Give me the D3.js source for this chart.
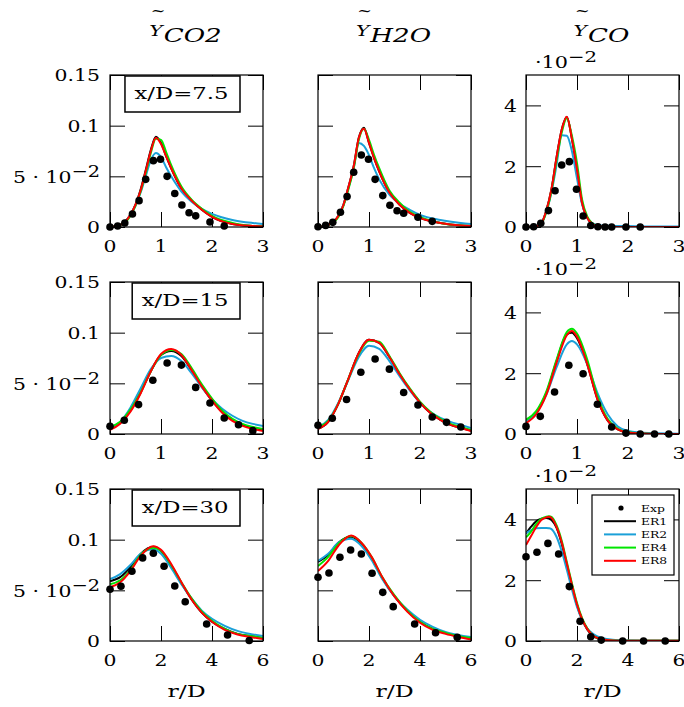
<!DOCTYPE html>
<html><head><meta charset="utf-8">
<script src="https://cdn.jsdelivr.net/npm/d3@7"></script>
<style>body{margin:0;background:#fff}</style>
</head><body>
<svg id="c" width="684" height="707"></svg>
<script>
// ---------------- DATA ----------------
const speciesSubs = ["CO2","H2O","CO"];
const stations = ["x/D=7.5","x/D=15","x/D=30"];
const seriesNames = ["ER1","ER2","ER4","ER8"];
const xTicksNear = [0,1,2,3];
const xTicksFar = [0,2,4,6];
const yTicksMain = [0,0.05,0.1,0.15];
const yTickLabelsMain = ["0","5 · 10^−2","0.1","0.15"];
const yTicksCO = [0,0.02,0.04];
const yTickLabelsCO = ["0","2","4"];
const coMultiplier = "·10^−2";

// x/D = 7.5
const r_a = [0,0.2,0.4,0.5,0.6,0.7,0.8,0.9,1.0,1.1,1.2,1.4,1.6,1.8,2.0,2.4,2.8,3.0];
const co2_7_er1 = [0,0.002,0.012,0.022,0.037,0.056,0.076,0.089,0.083,0.070,0.058,0.038,0.026,0.017,0.010,0.003,0.001,0.0005];
const co2_7_er2 = [0,0.002,0.012,0.021,0.034,0.050,0.066,0.073,0.069,0.059,0.050,0.035,0.025,0.018,0.013,0.007,0.004,0.003];
const co2_7_er4 = [0,0.002,0.011,0.021,0.035,0.053,0.073,0.087,0.086,0.074,0.061,0.040,0.027,0.018,0.011,0.004,0.001,0.0005];
const co2_7_er8 = [0,0.002,0.012,0.022,0.036,0.055,0.075,0.088,0.082,0.070,0.058,0.038,0.026,0.017,0.010,0.003,0.001,0.0005];
const h2o_7_er1 = [0,0.002,0.011,0.022,0.040,0.060,0.088,0.098,0.083,0.068,0.055,0.034,0.022,0.014,0.009,0.004,0.0015,0.001];
const h2o_7_er2 = [0,0.002,0.011,0.022,0.039,0.058,0.083,0.080,0.071,0.058,0.047,0.032,0.023,0.017,0.012,0.007,0.004,0.003];
const h2o_7_er4 = [0,0.002,0.010,0.021,0.038,0.058,0.086,0.097,0.086,0.071,0.058,0.036,0.024,0.015,0.010,0.004,0.0015,0.001];
const h2o_7_er8 = [0,0.002,0.011,0.022,0.040,0.060,0.088,0.097,0.083,0.068,0.055,0.034,0.022,0.014,0.009,0.004,0.0015,0.001];
const r_b = [0,0.2,0.3,0.4,0.5,0.6,0.7,0.8,0.9,1.0,1.1,1.2,1.3,1.4,1.6,2.0,2.5,3.0];
const co_7_er1 = [0,0.0002,0.0012,0.0055,0.0125,0.023,0.032,0.0362,0.029,0.019,0.0078,0.003,0.001,0.0003,0.0001,0,0,0];
const co_7_er2 = [0,0.0002,0.0012,0.005,0.0115,0.0205,0.0302,0.030,0.025,0.016,0.0075,0.003,0.0012,0.0006,0.0004,0.0003,0.0002,0.0002];
const co_7_er4 = [0,0.0002,0.0011,0.005,0.012,0.022,0.031,0.0358,0.030,0.021,0.009,0.0035,0.0012,0.0004,0.0001,0,0,0];
const co_7_er8 = [0,0.0002,0.0012,0.0055,0.0125,0.023,0.032,0.0363,0.029,0.019,0.0078,0.003,0.001,0.0003,0.0001,0,0,0];
const exp_r_7 = [0,0.15,0.29,0.44,0.57,0.70,0.85,0.99,1.12,1.27,1.41,1.55,1.68,1.96,2.24];
const co2_7_exp = [0,0.001,0.004,0.0128,0.026,0.047,0.0655,0.0668,0.050,0.033,0.0217,0.014,0.011,0.005,0.001];
const h2o_7_exp = [0.0003,0.0016,0.0046,0.0145,0.030,0.054,0.071,0.0668,0.047,0.031,0.0214,0.016,0.0135,0.0096,0.0056];
const co_7_exp = [0,0.0001,0.0012,0.0054,0.0119,0.0204,0.0215,0.0124,0.0036,0.0005,0.0001,0,0,0,0];

// x/D = 15
const r_c = [0,0.2,0.4,0.6,0.8,1.0,1.2,1.4,1.6,1.8,2.0,2.2,2.4,2.6,2.8,3.0];
const co2_15_er1 = [0.005,0.011,0.023,0.041,0.062,0.078,0.082,0.077,0.063,0.047,0.033,0.022,0.014,0.009,0.006,0.004];
const co2_15_er2 = [0.006,0.012,0.026,0.045,0.064,0.075,0.077,0.072,0.060,0.046,0.034,0.025,0.018,0.013,0.010,0.008];
const co2_15_er4 = [0.007,0.012,0.024,0.041,0.062,0.078,0.083,0.079,0.065,0.049,0.035,0.023,0.015,0.010,0.007,0.005];
const co2_15_er8 = [0.004,0.010,0.022,0.040,0.062,0.079,0.084,0.078,0.063,0.047,0.033,0.021,0.013,0.008,0.005,0.003];
const h2o_15_er1 = [0.005,0.012,0.030,0.055,0.080,0.093,0.090,0.076,0.059,0.044,0.031,0.021,0.014,0.009,0.006,0.0035];
const h2o_15_er2 = [0.007,0.014,0.031,0.054,0.076,0.087,0.084,0.072,0.057,0.043,0.031,0.022,0.016,0.012,0.009,0.006];
const h2o_15_er4 = [0.007,0.013,0.030,0.055,0.079,0.092,0.091,0.077,0.060,0.045,0.032,0.022,0.015,0.010,0.007,0.004];
const h2o_15_er8 = [0.005,0.012,0.030,0.055,0.080,0.093,0.090,0.076,0.059,0.044,0.031,0.021,0.014,0.009,0.006,0.003];
const r_d = [0,0.2,0.4,0.6,0.8,0.9,1.0,1.2,1.4,1.6,1.8,2.0,2.4,3.0];
const co_15_er1 = [0.0045,0.0072,0.0135,0.024,0.0328,0.0333,0.0315,0.023,0.0115,0.0045,0.0015,0.0005,0.0001,0];
const co_15_er2 = [0.0041,0.007,0.013,0.022,0.0295,0.0306,0.0295,0.023,0.0135,0.0065,0.0025,0.001,0.0003,0.0001];
const co_15_er4 = [0.0047,0.0075,0.014,0.0245,0.0335,0.0346,0.033,0.0245,0.0125,0.005,0.0017,0.0006,0.0001,0];
const co_15_er8 = [0.0036,0.0065,0.013,0.0235,0.0325,0.0339,0.032,0.023,0.0115,0.0045,0.0015,0.0005,0.0001,0];
const exp_r_15 = [0,0.28,0.56,0.84,1.12,1.40,1.68,1.96,2.24,2.52,2.80];
const co2_15_exp = [0.0076,0.0135,0.029,0.053,0.070,0.068,0.046,0.0306,0.0158,0.0092,0.0033];
const h2o_15_exp = [0.0086,0.0155,0.034,0.061,0.074,0.064,0.041,0.0286,0.0168,0.0115,0.0069];
const co_15_exp = [0.0025,0.0058,0.0138,0.0226,0.0198,0.0098,0.0023,0.0003,0,0,0];

// x/D = 30
const r_e = [0,0.4,0.8,1.2,1.7,2.0,2.4,2.8,3.2,3.6,4.0,4.5,5.0,5.5,6.0];
const co2_30_er1 = [0.059,0.063,0.073,0.086,0.093,0.089,0.074,0.057,0.041,0.028,0.019,0.012,0.007,0.005,0.003];
const co2_30_er2 = [0.061,0.066,0.075,0.086,0.0905,0.086,0.072,0.056,0.042,0.030,0.022,0.015,0.010,0.007,0.005];
const co2_30_er4 = [0.056,0.060,0.070,0.085,0.092,0.089,0.075,0.058,0.042,0.029,0.020,0.012,0.007,0.005,0.003];
const co2_30_er8 = [0.053,0.058,0.069,0.084,0.0935,0.090,0.076,0.058,0.041,0.028,0.019,0.011,0.0065,0.004,0.002];
const r_f = [0,0.4,0.8,1.3,1.7,2.1,2.5,3.0,3.5,4.0,4.5,5.0,5.5,6.0];
const h2o_30_er1 = [0.078,0.085,0.097,0.103,0.096,0.082,0.063,0.044,0.030,0.019,0.012,0.008,0.005,0.003];
const h2o_30_er2 = [0.079,0.086,0.097,0.101,0.094,0.080,0.062,0.044,0.031,0.021,0.014,0.009,0.006,0.004];
const h2o_30_er4 = [0.074,0.083,0.096,0.1035,0.097,0.083,0.064,0.045,0.030,0.019,0.012,0.008,0.005,0.003];
const h2o_30_er8 = [0.069,0.079,0.094,0.104,0.097,0.083,0.064,0.044,0.029,0.018,0.011,0.007,0.004,0.0015];
const r_g = [0,0.2,0.4,0.6,0.8,0.9,1.0,1.2,1.4,1.6,1.8,2.0,2.2,2.4,2.6,2.8,3.0,3.4,4.0,5.0,6.0];
const co_30_er1 = [0.0354,0.0376,0.0394,0.0402,0.0405,0.0403,0.0398,0.0372,0.032,0.025,0.0182,0.0118,0.007,0.0038,0.0019,0.0009,0.0005,0.0002,0.0001,0.0001,0.0001];
const co_30_er2 = [0.0355,0.0365,0.0371,0.0372,0.0372,0.0371,0.0368,0.0342,0.0295,0.0235,0.017,0.0112,0.007,0.0042,0.0025,0.0015,0.0009,0.0004,0.0002,0.0001,0.0001];
const co_30_er4 = [0.0341,0.036,0.0385,0.0402,0.0409,0.041,0.0408,0.038,0.033,0.026,0.019,0.0125,0.0075,0.0042,0.002,0.001,0.0005,0.0002,0.0001,0.0001,0.0001];
const co_30_er8 = [0.0316,0.0345,0.0375,0.0398,0.0407,0.0409,0.0405,0.0375,0.0325,0.0255,0.0185,0.012,0.0072,0.004,0.002,0.001,0.0005,0.0002,0.0001,0.0001,0.0001];
const exp_r_30 = [0,0.43,0.86,1.28,1.70,2.12,2.54,2.95,3.79,4.61,5.46];
const co2_30_exp = [0.051,0.054,0.0688,0.082,0.0866,0.0737,0.0543,0.0388,0.0168,0.0059,0.0005];
const h2o_30_exp = [0.0629,0.0671,0.0826,0.0898,0.0859,0.0668,0.048,0.0339,0.0168,0.0082,0.0036];
const co_30_exp = [0.0277,0.0292,0.0321,0.0286,0.0179,0.0065,0.0014,0.0003,0,0,0];

// ---------------- LAYOUT / STYLE ----------------
const seriesColors = ["#000000","#1ba0d8","#00e600","#ff0000"];
const FONT = "DejaVu Serif";
const PX = [110,318,526], PY = [75,282,489], PW = 153, PH = 152, TL = 15;

const panels = [
  {row:0,col:0,r:r_a,s:[co2_7_er1,co2_7_er2,co2_7_er4,co2_7_er8],er:exp_r_7,ev:co2_7_exp},
  {row:0,col:1,r:r_a,s:[h2o_7_er1,h2o_7_er2,h2o_7_er4,h2o_7_er8],er:exp_r_7,ev:h2o_7_exp},
  {row:0,col:2,r:r_b,s:[co_7_er1,co_7_er2,co_7_er4,co_7_er8],er:exp_r_7,ev:co_7_exp},
  {row:1,col:0,r:r_c,s:[co2_15_er1,co2_15_er2,co2_15_er4,co2_15_er8],er:exp_r_15,ev:co2_15_exp},
  {row:1,col:1,r:r_c,s:[h2o_15_er1,h2o_15_er2,h2o_15_er4,h2o_15_er8],er:exp_r_15,ev:h2o_15_exp},
  {row:1,col:2,r:r_d,s:[co_15_er1,co_15_er2,co_15_er4,co_15_er8],er:exp_r_15,ev:co_15_exp},
  {row:2,col:0,r:r_e,s:[co2_30_er1,co2_30_er2,co2_30_er4,co2_30_er8],er:exp_r_30,ev:co2_30_exp},
  {row:2,col:1,r:r_f,s:[h2o_30_er1,h2o_30_er2,h2o_30_er4,h2o_30_er8],er:exp_r_30,ev:h2o_30_exp},
  {row:2,col:2,r:r_g,s:[co_30_er1,co_30_er2,co_30_er4,co_30_er8],er:exp_r_30,ev:co_30_exp}
];

const svg = d3.select("#c");

function txt(parent, x, y, str, o) {
  o = Object.assign({size:17, sx:1.2, anchor:"middle", italic:false}, o||{});
  const t = parent.append("text")
    .attr("transform", `translate(${x},${y}) scale(${o.sx},1)`)
    .attr("text-anchor", o.anchor)
    .attr("font-family", FONT)
    .attr("font-size", o.size)
    .attr("fill", "#000");
  if (o.italic) t.attr("font-style","italic");
  const parts = str.split("^");
  t.append("tspan").text(parts[0]);
  if (parts[1] !== undefined) t.append("tspan").attr("dy", -5.5).attr("font-size", o.size*0.95).text(parts[1]);
  return t;
}

panels.forEach(p => {
  const g = svg.append("g").attr("transform", `translate(${PX[p.col]},${PY[p.row]})`);
  const x = d3.scaleLinear().domain([0, p.row === 2 ? 6 : 3]).range([0, PW]);
  const y = d3.scaleLinear().domain([0, p.col === 2 ? 0.05 : 0.15]).range([PH, 0]);
  const xt = p.row === 2 ? xTicksFar : xTicksNear;
  const yt = p.col === 2 ? yTicksCO : yTicksMain;

  const cid = `clip${p.row}${p.col}`;
  g.append("clipPath").attr("id", cid).append("rect").attr("width", PW).attr("height", PH);

  const clean = s => { s.select(".domain").remove(); s.selectAll("line").attr("stroke","#000").attr("stroke-width",1); };
  g.append("g").attr("transform",`translate(0,${PH})`).call(d3.axisBottom(x).tickValues(xt).tickSize(-TL).tickFormat("")).call(clean);
  g.append("g").call(d3.axisTop(x).tickValues(xt).tickSize(-TL).tickFormat("")).call(clean);
  g.append("g").call(d3.axisLeft(y).tickValues(yt).tickSize(-TL).tickFormat("")).call(clean);
  g.append("g").attr("transform",`translate(${PW},0)`).call(d3.axisRight(y).tickValues(yt).tickSize(-TL).tickFormat("")).call(clean);

  const line = d3.line().x(d => x(d[0])).y(d => y(d[1])).curve(d3.curveMonotoneX);
  const lg = g.append("g").attr("clip-path", `url(#${cid})`);
  p.s.forEach((vals, i) => {
    lg.append("path").datum(p.r.map((rv, k) => [rv, vals[k]]))
      .attr("d", line).attr("fill","none").attr("stroke", seriesColors[i]).attr("stroke-width", 2);
  });

  g.append("rect").attr("width", PW).attr("height", PH).attr("fill","none").attr("stroke","#000").attr("stroke-width",1.2);

  g.selectAll("circle.exp").data(p.er.map((rv, k) => [rv, p.ev[k]])).join("circle")
    .attr("class","exp").attr("cx", d => x(d[0])).attr("cy", d => y(d[1])).attr("r", 3.8).attr("fill","#000");

  xt.forEach(t => txt(g, x(t), PH + 25, String(t)));
  if (p.col === 0) yt.forEach((t, i) => txt(g, -10, y(t) + 6.3, yTickLabelsMain[i], {anchor:"end"}));
  if (p.col === 2) {
    yt.forEach((t, i) => txt(g, -9, y(t) + 6.3, yTickLabelsCO[i], {anchor:"end"}));
    txt(g, 9, -7.5, coMultiplier, {anchor:"start", size:16, sx:1.3});
  }
});

// column titles: tilde-Y with subscript species
speciesSubs.forEach((sub, c) => {
  const cx = PX[c] + PW / 2 - 1, SXT = 1.45;
  const tY = svg.append("text").attr("font-family",FONT).attr("font-style","italic")
    .attr("font-size",14).attr("fill","#000").text("Y");
  const tS = svg.append("text").attr("font-family",FONT).attr("font-style","italic")
    .attr("font-size",18).attr("fill","#000").text(sub);
  const wY = tY.node().getComputedTextLength() * SXT;
  const wS = tS.node().getComputedTextLength() * SXT;
  const x0 = cx - (wY + wS + 1) / 2;
  tY.attr("transform", `translate(${x0},36) scale(${SXT},1)`);
  tS.attr("transform", `translate(${x0 + wY + 1},42) scale(${SXT},1)`);
  svg.append("text").attr("transform", `translate(${x0 + wY/2 + 2},16) scale(1.25,1)`)
    .attr("text-anchor","middle").attr("font-family",FONT).attr("font-size",14).attr("fill","#000").text("~");
});

// station boxes
stations.forEach((s, r) => {
  const SXB = 1.38;
  const t = txt(svg, 0, 0, s, {size:16.5, sx:SXB});
  const w = t.node().getComputedTextLength() * SXB;
  const bw = w + 21, bh = 36, bx = 240 - bw, by = PY[r] + 1;
  svg.insert("rect", function(){ return t.node(); })
    .attr("x", bx).attr("y", by).attr("width", bw).attr("height", bh)
    .attr("fill","#fff").attr("stroke","#000").attr("stroke-width",1.5);
  t.attr("transform", `translate(${bx + bw/2 - 1},${by + 23.3}) scale(${SXB},1)`);
});

// r/D labels
PX.forEach(px => txt(svg, px + PW/2, 697, "r/D", {size:17.5, sx:1.35}));

// legend in last panel
const lgd = svg.append("g").attr("transform", `translate(${PX[2]},${PY[2]})`);
lgd.append("rect").attr("x",66).attr("y",6).attr("width",82).attr("height",80)
  .attr("fill","#fff").attr("stroke","#000").attr("stroke-width",1.2);
const entries = ["Exp"].concat(seriesNames);
entries.forEach((name, i) => {
  const yy = 19 + i * 13.2;
  if (i === 0) lgd.append("circle").attr("cx",95).attr("cy",yy).attr("r",2.6).attr("fill","#000");
  else lgd.append("line").attr("x1",78).attr("x2",110).attr("y1",yy).attr("y2",yy)
    .attr("stroke",seriesColors[i-1]).attr("stroke-width",2);
  txt(lgd, 115, yy + 3.5, name, {anchor:"start", size:9.5, sx:1.3});
});
</script>
</body></html>
